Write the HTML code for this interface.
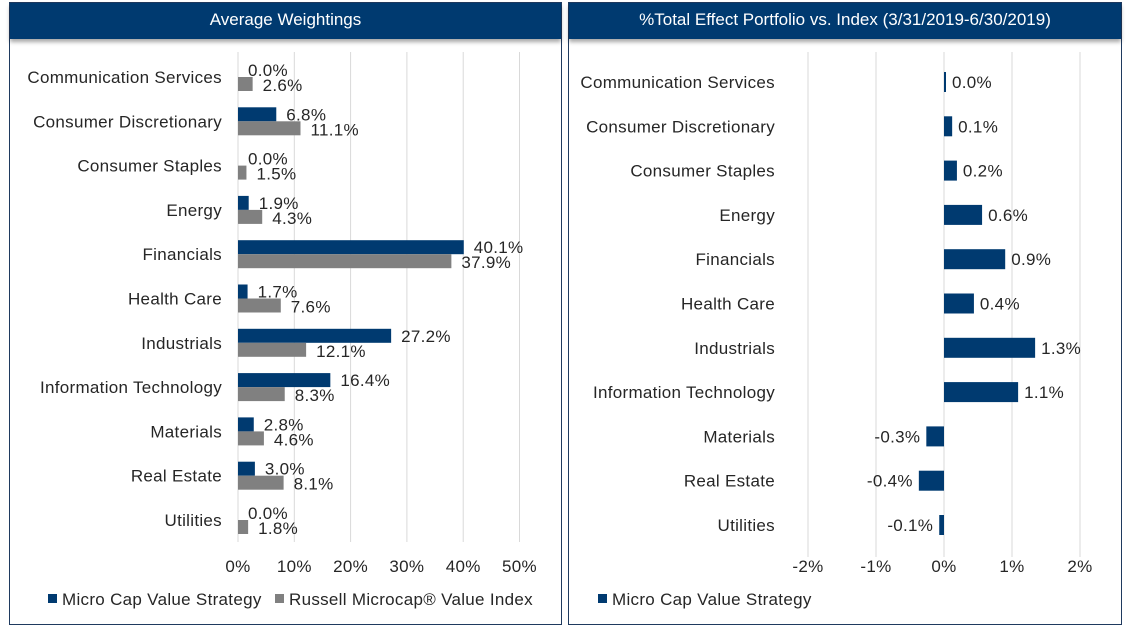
<!DOCTYPE html>
<html><head><meta charset="utf-8"><style>
body{margin:0;width:1130px;height:630px;background:#fff;position:relative;overflow:hidden;font-family:"Liberation Sans",sans-serif;}
.panel{position:absolute;top:2px;height:623px;border:1.5px solid #1f3a5f;box-sizing:border-box;background:#fff}
.hdr{position:absolute;left:0;right:0;top:0;height:36px;background:#003a70;color:#fff;font-size:17px;text-align:center;line-height:34px;box-shadow:0 3px 4px rgba(0,0,0,0.35)}
svg{position:absolute;left:0;top:0}
svg text{font-family:"Liberation Sans",sans-serif;font-size:17px;letter-spacing:0.3px;fill:#262626}
</style></head><body>
<div class="panel" style="left:9px;width:553px"><div class="hdr">Average Weightings</div></div>
<div class="panel" style="left:568px;width:554px"><div class="hdr">%Total Effect Portfolio vs. Index (3/31/2019-6/30/2019)</div></div>
<svg id="s" width="1130" height="630"></svg>
<script>
const categories=["Communication Services","Consumer Discretionary","Consumer Staples","Energy","Financials","Health Care","Industrials","Information Technology","Materials","Real Estate","Utilities"];
const strategyWeights=[0.0,6.8,0.0,1.9,40.1,1.7,27.2,16.4,2.8,3.0,0.0];
const indexWeights=[2.6,11.1,1.5,4.3,37.9,7.6,12.1,8.3,4.6,8.1,1.8];
const totalEffect=[0.01,0.12,0.19,0.56,0.9,0.44,1.34,1.09,-0.26,-0.37,-0.07];
const totalEffectLabels=["0.0%","0.1%","0.2%","0.6%","0.9%","0.4%","1.3%","1.1%","-0.3%","-0.4%","-0.1%"];
const leftTicks=[0,10,20,30,40,50];
const rightTicks=[-2,-1,0,1,2];
const BLUE="#003a70",GRAY="#808080";
const s=document.getElementById('s');
function el(t,a,txt){const e=document.createElementNS('http://www.w3.org/2000/svg',t);for(const k in a)e.setAttribute(k,a[k]);if(txt!=null)e.textContent=txt;s.appendChild(e);return e;}
const lx=v=>238+v*5.63;
const rx=v=>944+v*68;
const rowL=i=>77+i*44.3;
const rowR=i=>82+i*44.3;
leftTicks.forEach(t=>{
 const g=el('line',{x1:lx(t),x2:lx(t),y1:52,y2:542,stroke:'#d9d9d9','stroke-width':1});
 
 const tx=el('text',{x:lx(t),y:572,'text-anchor':'middle'},t+'%');
 
});
rightTicks.forEach(t=>{
 const g=el('line',{x1:rx(t),x2:rx(t),y1:52,y2:557,stroke:'#d9d9d9','stroke-width':1});
 
 const tx=el('text',{x:rx(t),y:572,'text-anchor':'middle'},t+'%');
 
});
categories.forEach((c,i)=>{
 const y=rowL(i);
 const t=el('text',{x:222,y:y+6,'text-anchor':'end'},c);
 
 const b1=el('rect',{x:lx(0),y:y-14,width:lx(strategyWeights[i])-lx(0),height:14,fill:BLUE});
 
 const b2=el('rect',{x:lx(0),y:y,width:lx(indexWeights[i])-lx(0),height:14,fill:GRAY});
 
 const v1=el('text',{x:lx(strategyWeights[i])+10,y:y-1},strategyWeights[i].toFixed(1)+'%');
 
 const v2=el('text',{x:lx(indexWeights[i])+10,y:y+14},indexWeights[i].toFixed(1)+'%');
 
 const yr=rowR(i);
 const t2=el('text',{x:775,y:yr+6,'text-anchor':'end'},c);
 
 const v=totalEffect[i];
 const w=Math.max(2,Math.abs(rx(v)-rx(0)));
 const b=el('rect',{x:v<0?rx(v):rx(0),y:yr-10,width:w,height:20,fill:BLUE});
 
 const lv=el('text',{x:v<0?rx(v)-6:rx(0)+w+6,y:yr+6,'text-anchor':v<0?'end':'start'},totalEffectLabels[i]);
 
});
[[48,BLUE,'Micro Cap Value Strategy'],[275,GRAY,'Russell Microcap® Value Index'],[598,BLUE,'Micro Cap Value Strategy']].forEach(([x,c,l])=>{
 const r=el('rect',{x:x,y:594,width:9,height:9,fill:c});
 
 const t=el('text',{x:x+14,y:605},l);
 
});
</script>
</body></html>
